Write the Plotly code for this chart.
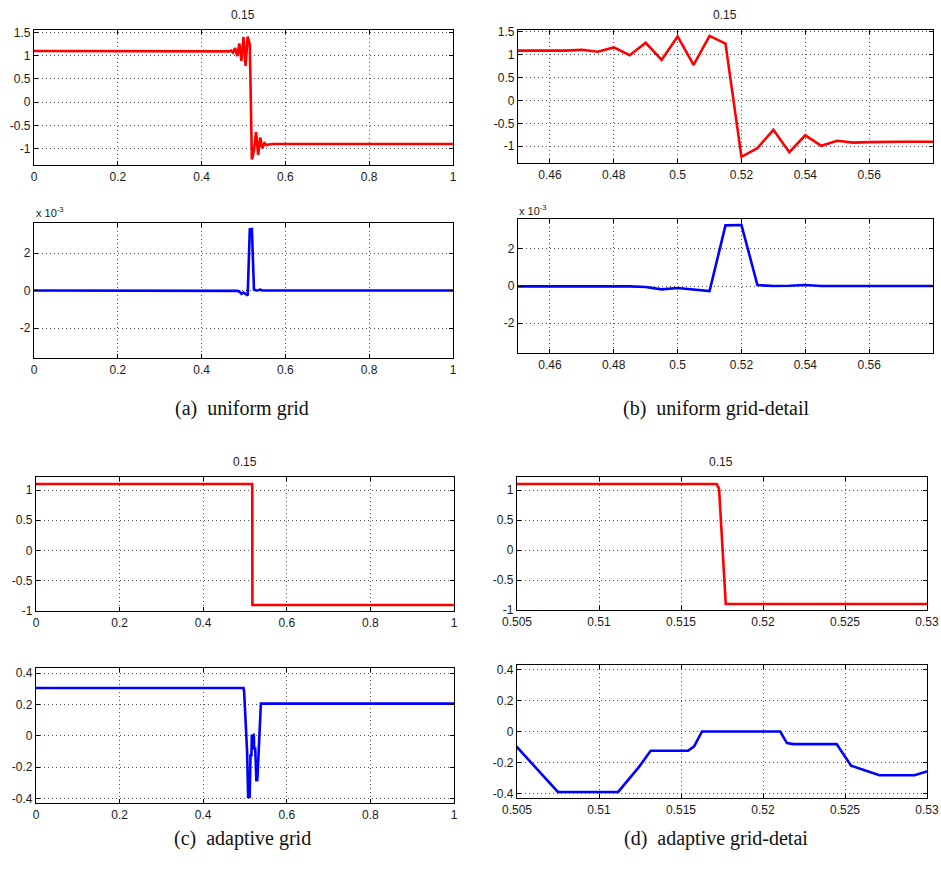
import plotly.graph_objects as go

W, H = 941, 872

# ---------------- data ----------------
# uniform grid solution (dx = 0.005), constant outside the listed window
uniform_x = [0.0, 0.445, 0.45, 0.455, 0.46, 0.465, 0.47, 0.475, 0.48, 0.485,
             0.49, 0.495, 0.50, 0.505, 0.51, 0.515, 0.52, 0.525, 0.53, 0.535,
             0.54, 0.545, 0.55, 0.555, 0.56, 0.565, 0.57, 0.575, 0.58, 1.0]
uniform_u = [1.1, 1.1, 1.1, 1.1, 1.1, 1.09, 1.11, 1.065, 1.16, 0.99,
             1.26, 0.885, 1.40, 0.78, 1.41, 1.245, -1.23, -1.04, -0.64, -1.13,
             -0.76, -0.99, -0.88, -0.92, -0.91, -0.9, -0.9, -0.9, -0.9, -0.9]
# second quantity on uniform grid, in units of 1e-3
uniform_e = [0.0, 0.0, 0.0, 0.0, 0.0, 0.0, 0.0, 0.0, 0.0, -0.02,
             -0.05, -0.18, -0.11, -0.19, -0.27, 3.26, 3.28, 0.05, 0.0, 0.01,
             0.05, 0.0, 0.0, 0.0, 0.0, 0.0, 0.0, 0.0, 0.0, 0.0]

# adaptive grid solution
adapt_ux = [0.0, 0.51718, 0.51732, 0.51773, 1.0]
adapt_u = [1.1, 1.1, 1.02, -0.9, -0.9]

adapt_ex = [0.0, 0.4965, 0.498, 0.5, 0.502, 0.505, 0.50749, 0.51117, 0.51243,
            0.51315, 0.51543, 0.5158, 0.51628, 0.51905, 0.5197, 0.5206, 0.52105,
            0.52146, 0.52186, 0.52449, 0.52537, 0.5271, 0.52924, 0.53, 0.538, 1.0]
adapt_e = [0.305, 0.305, 0.28, 0.19, 0.07, -0.10, -0.389, -0.389, -0.229,
           -0.124, -0.124, -0.096, 0.0, 0.0, 0.004, 0.004, 0.0,
           -0.075, -0.081, -0.081, -0.22, -0.282, -0.282, -0.257, 0.205, 0.205]

# tick values / labels
xt_full = [0, 0.2, 0.4, 0.6, 0.8, 1]
xt_full_lbl = ["0", "0.2", "0.4", "0.6", "0.8", "1"]
xt_b = [0.46, 0.48, 0.50, 0.52, 0.54, 0.56]
xt_b_lbl = ["0.46", "0.48", "0.5", "0.52", "0.54", "0.56"]
xt_d = [0.505, 0.51, 0.515, 0.52, 0.525, 0.53]
xt_d_lbl = ["0.505", "0.51", "0.515", "0.52", "0.525", "0.53"]
yt_u = [-1, -0.5, 0, 0.5, 1, 1.5]
yt_u_lbl = ["-1", "-0.5", "0", "0.5", "1", "1.5"]
yt_e3 = [-2, 0, 2]
yt_e3_lbl = ["-2", "0", "2"]
yt_a = [-1, -0.5, 0, 0.5, 1]
yt_a_lbl = ["-1", "-0.5", "0", "0.5", "1"]
yt_ae = [-0.4, -0.2, 0, 0.2, 0.4]
yt_ae_lbl = ["-0.4", "-0.2", "0", "0.2", "0.4"]

panel_titles = ["0.15", "0.15", "0.15", "0.15"]
captions = ["(a)  uniform grid", "(b)  uniform grid-detail",
            "(c)  adaptive grid", "(d)  adaptive grid-detai"]

RED = "rgb(255,0,0)"
BLUE = "rgb(0,0,255)"

# panel boxes in pixels: (left, top, right, bottom)
panels = [
    dict(box=(34, 30, 453, 165), x=uniform_x, y=uniform_u, c=RED,
         xr=[0, 1], yr=[-1.35, 1.55], xt=xt_full, xl=xt_full_lbl, yt=yt_u, yl=yt_u_lbl),
    dict(box=(34, 223, 453, 358), x=uniform_x, y=uniform_e, c=BLUE,
         xr=[0, 1], yr=[-3.6, 3.6], xt=xt_full, xl=xt_full_lbl, yt=yt_e3, yl=yt_e3_lbl),
    dict(box=(518, 30, 933, 163), x=uniform_x, y=uniform_u, c=RED,
         xr=[0.45, 0.58], yr=[-1.365, 1.54], xt=xt_b, xl=xt_b_lbl, yt=yt_u, yl=yt_u_lbl),
    dict(box=(518, 219, 933, 353), x=uniform_x, y=uniform_e, c=BLUE,
         xr=[0.45, 0.58], yr=[-3.6, 3.6], xt=xt_b, xl=xt_b_lbl, yt=yt_e3, yl=yt_e3_lbl),
    dict(box=(36, 477, 454, 611), x=adapt_ux, y=adapt_u, c=RED,
         xr=[0, 1], yr=[-1.0, 1.215], xt=xt_full, xl=xt_full_lbl, yt=yt_a, yl=yt_a_lbl),
    dict(box=(36, 668, 454, 803), x=adapt_ex, y=adapt_e, c=BLUE,
         xr=[0, 1], yr=[-0.428, 0.432], xt=xt_full, xl=xt_full_lbl, yt=yt_ae, yl=yt_ae_lbl),
    dict(box=(517, 477, 927, 610), x=adapt_ux, y=adapt_u, c=RED,
         xr=[0.505, 0.53], yr=[-1.0, 1.217], xt=xt_d, xl=xt_d_lbl, yt=yt_a, yl=yt_a_lbl),
    dict(box=(517, 665, 927, 798), x=adapt_ex, y=adapt_e, c=BLUE,
         xr=[0.505, 0.53], yr=[-0.428, 0.428], xt=xt_d, xl=xt_d_lbl, yt=yt_ae, yl=yt_ae_lbl),
]

TICKFONT = dict(family="Liberation Sans, Arial, sans-serif", size=12, color="#1a1a1a")

fig = go.Figure()
layout = {}
for i, p in enumerate(panels, start=1):
    sfx = "" if i == 1 else str(i)
    l, t, r, b = p["box"]
    fig.add_trace(go.Scatter(
        x=p["x"], y=p["y"], mode="lines",
        line=dict(color=p["c"], width=2.6),
        xaxis="x" + sfx, yaxis="y" + sfx,
        showlegend=False, hoverinfo="skip"))
    common = dict(
        showline=True, linecolor="black", linewidth=1.2, mirror="allticks",
        ticks="inside", ticklen=4, tickcolor="black", tickwidth=1,
        showgrid=True, gridcolor="rgba(60,60,60,0.9)", gridwidth=1, griddash="1px,3px",
        zeroline=False, tickfont=TICKFONT, fixedrange=True, automargin=False,
    )
    layout["xaxis" + sfx] = dict(
        common, domain=[l / W, r / W], range=p["xr"], anchor="y" + sfx,
        tickmode="array", tickvals=p["xt"], ticktext=p["xl"])
    layout["yaxis" + sfx] = dict(
        common, domain=[1 - b / H, 1 - t / H], range=p["yr"], anchor="x" + sfx,
        tickmode="array", tickvals=p["yt"], ticktext=p["yl"])

fig.update_layout(**layout)

annotations = []
# panel titles
for (cx, cy), txt in zip([(243, 15), (725, 15), (245, 462), (721, 462)], panel_titles):
    annotations.append(dict(x=cx / W, y=1 - cy / H, xref="paper", yref="paper",
                            text=txt, showarrow=False, xanchor="center", yanchor="middle",
                            font=dict(family="Liberation Sans, Arial, sans-serif", size=12, color="#1a1a1a")))
# exponent labels
for (lx, ly) in [(34, 212), (517, 210)]:
    annotations.append(dict(x=lx / W, y=1 - ly / H, xref="paper", yref="paper",
                            text="x 10<sup>-3</sup>", showarrow=False, xanchor="left", yanchor="middle",
                            font=dict(family="Liberation Sans, Arial, sans-serif", size=11, color="#1a1a1a")))
# captions
for (cx, cy), txt in zip([(242, 408), (716, 408), (242, 838), (716, 838)], captions):
    annotations.append(dict(x=cx / W, y=1 - cy / H, xref="paper", yref="paper",
                            text=txt, showarrow=False, xanchor="center", yanchor="middle",
                            font=dict(family="Liberation Serif, DejaVu Serif, serif", size=20, color="#111")))

fig.update_layout(
    width=W, height=H, margin=dict(l=0, r=0, t=0, b=0, autoexpand=False),
    paper_bgcolor="white", plot_bgcolor="white",
    annotations=annotations,
)

fig.write_html("out.html", config={"displayModeBar": False})
